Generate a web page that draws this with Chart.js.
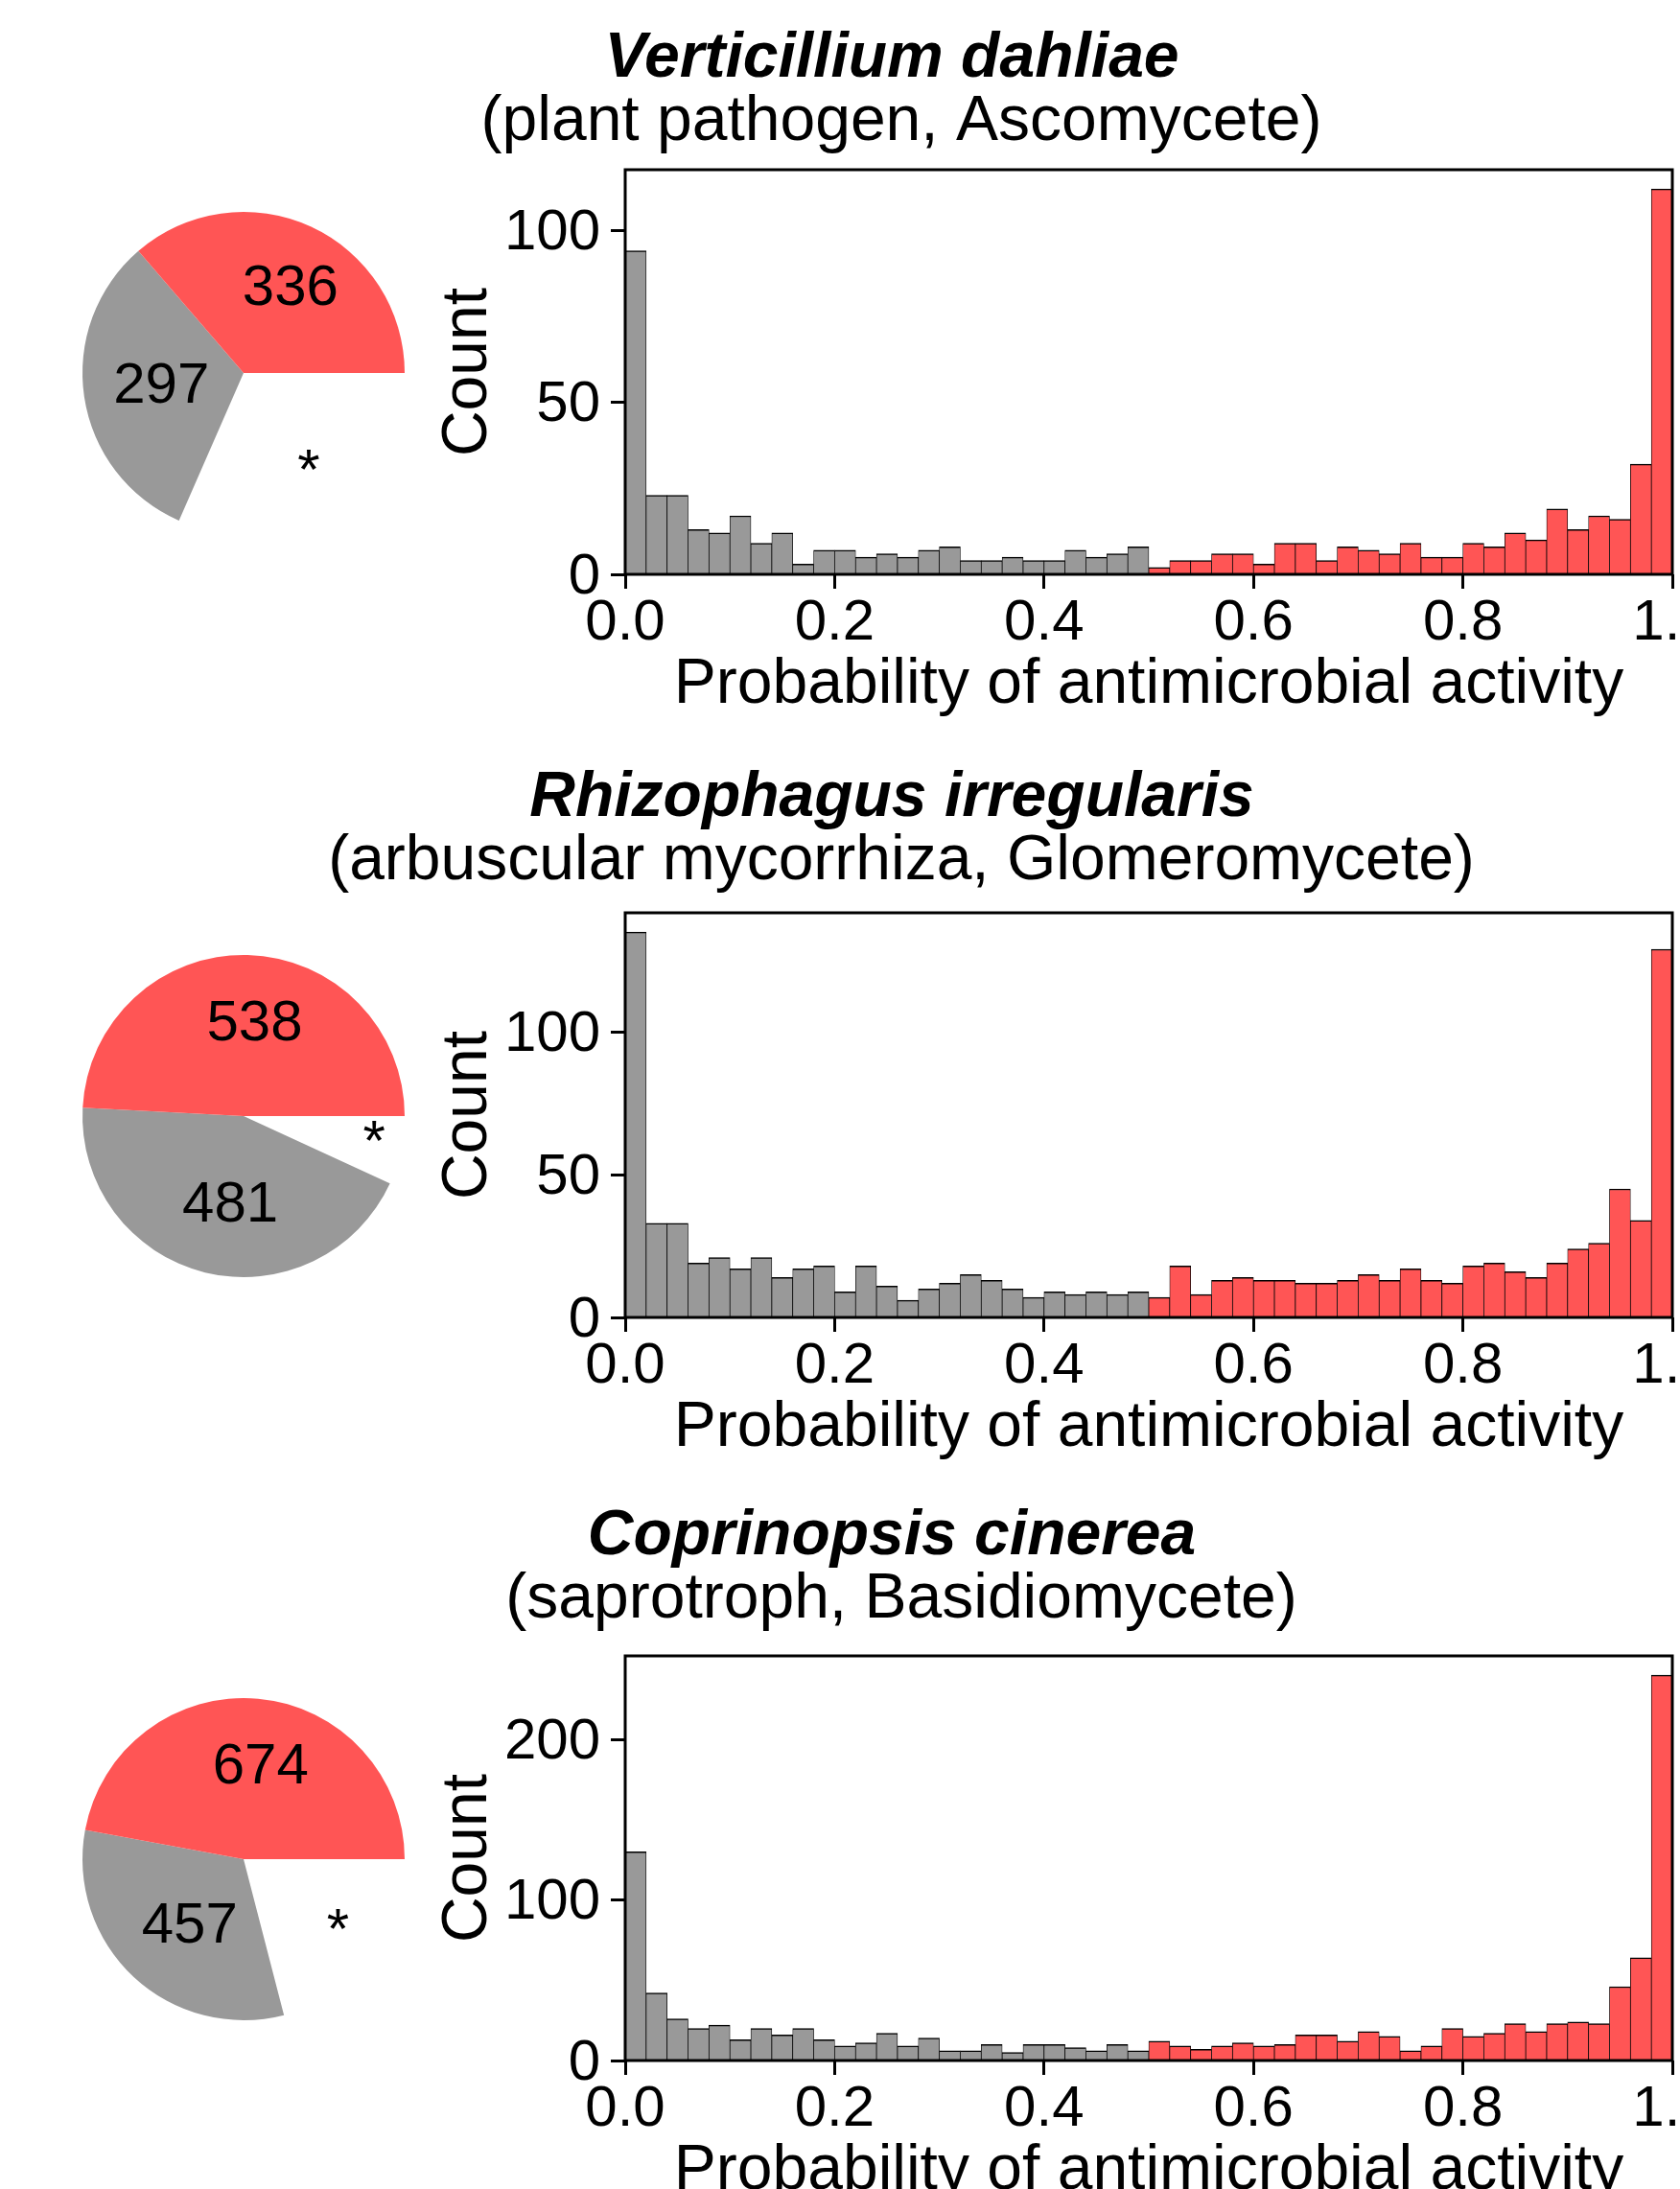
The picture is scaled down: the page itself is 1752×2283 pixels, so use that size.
<!DOCTYPE html>
<html>
<head>
<meta charset="utf-8">
<script src="https://cdn.jsdelivr.net/npm/chart.js@4.4.1/dist/chart.umd.min.js"></script>
<style>
  html, body { margin: 0; padding: 0; background: #fff; width: 1752px; height: 2283px; overflow: hidden; }
  .row { position: absolute; left: 0; width: 1752px; height: 775px; }
  .row canvas { position: absolute; }
</style>
</head>
<body>
<div id="rows"></div>
<script>
// ---- data ----
const species = ['Verticillium dahliae', 'Rhizophagus irregularis', 'Coprinopsis cinerea'];
const lifestyles = ['(plant pathogen, Ascomycete)', '(arbuscular mycorrhiza, Glomeromycete)', '(saprotroph, Basidiomycete)'];

// histogram bin centres (bin width 0.02)
const binCenters = [0.01, 0.03, 0.05, 0.07, 0.09, 0.11, 0.13, 0.15, 0.17, 0.19,
                    0.21, 0.23, 0.25, 0.27, 0.29, 0.31, 0.33, 0.35, 0.37, 0.39,
                    0.41, 0.43, 0.45, 0.47, 0.49, 0.51, 0.53, 0.55, 0.57, 0.59,
                    0.61, 0.63, 0.65, 0.67, 0.69, 0.71, 0.73, 0.75, 0.77, 0.79,
                    0.81, 0.83, 0.85, 0.87, 0.89, 0.91, 0.93, 0.95, 0.97, 0.99];

const countsVerticillium = [94, 23, 23, 13, 12, 17, 9, 12, 3, 7, 7, 5, 6, 5, 7, 8, 4, 4, 5, 4, 4, 7, 5, 6, 8,
                            2, 4, 4, 6, 6, 3, 9, 9, 4, 8, 7, 6, 9, 5, 5, 9, 8, 12, 10, 19, 13, 17, 16, 32, 112];
const countsRhizophagus = [135, 33, 33, 19, 21, 17, 21, 14, 17, 18, 9, 18, 11, 6, 10, 12, 15, 13, 10, 7, 9, 8, 9, 8, 9,
                           7, 18, 8, 13, 14, 13, 13, 12, 12, 13, 15, 13, 17, 13, 12, 18, 19, 16, 14, 19, 24, 26, 45, 34, 129];
const countsCoprinopsis = [130, 42, 26, 20, 22, 13, 20, 16, 20, 13, 9, 11, 17, 9, 14, 6, 6, 10, 5, 10, 10, 8, 6, 10, 6,
                           12, 9, 7, 9, 11, 9, 10, 16, 16, 12, 18, 15, 6, 9, 20, 15, 17, 23, 18, 23, 24, 23, 46, 64, 240];

// pie wedges: predicted active, predicted inactive, remainder (marked *)
const pieActive   = [336, 538, 674];
const pieInactive = [297, 481, 457];
const pieOther    = [292, 75, 300];
const otherMark = '*';

const yTickSteps = [50, 50, 100];
const xTickStep = 0.2;
const activeThreshold = 0.5;

// ---- styling ----
const RED = '#ff5555';
const GREY = '#999999';
const FONT = '"Liberation Sans", Arial, sans-serif';
Chart.defaults.color = '#000';
Chart.defaults.font.family = FONT;

const tickFont = { family: FONT, size: 60, lineHeight: 1 };
const labelFont = { family: FONT, size: 66, lineHeight: 1 };

// heading baselines (middle of text) for each row, and radial placement of the * mark
const headingTitleY = [62, 58, 53];
const headingSubtitleY = [128, 124, 119];
const markRadius = [0.74, 0.83, 0.74];

// box round the plotting area
const framePlugin = {
  id: 'frame',
  afterDraw(chart) {
    const { ctx, chartArea: a } = chart;
    ctx.save();
    ctx.strokeStyle = '#000';
    ctx.lineWidth = 3;
    ctx.strokeRect(a.left, a.top, a.right - a.left, a.bottom - a.top);
    ctx.restore();
  }
};

// species name (bold italic) and lifestyle line above each histogram
const headingPlugin = {
  id: 'heading',
  afterDraw(chart, args, opts) {
    const ctx = chart.ctx;
    ctx.save();
    ctx.fillStyle = '#000';
    ctx.textAlign = 'center';
    ctx.textBaseline = 'middle';
    ctx.font = 'italic bold 66px ' + FONT;
    ctx.fillText(opts.title, opts.titleX, opts.titleY);
    ctx.font = '66px ' + FONT;
    ctx.fillText(opts.subtitle, opts.subtitleX, opts.subtitleY);
    ctx.restore();
  }
};

// counts written inside the pie wedges
const pieLabelPlugin = {
  id: 'pieLabels',
  afterDatasetsDraw(chart, args, opts) {
    const meta = chart.getDatasetMeta(0);
    const ctx = chart.ctx;
    ctx.save();
    ctx.font = '60px ' + FONT;
    ctx.fillStyle = '#000';
    ctx.textAlign = 'center';
    ctx.textBaseline = 'middle';
    meta.data.forEach((arc, i) => {
      const p = arc.getProps(['x', 'y', 'startAngle', 'endAngle', 'outerRadius'], true);
      const mid = (p.startAngle + p.endAngle) / 2;
      const text = chart.data.labels[i];
      const isMark = text === otherMark;
      const r = p.outerRadius * (isMark ? opts.markRadius : 0.57);
      const dx = isMark ? 0 : 9;
      ctx.fillText(text, p.x + Math.cos(mid) * r + dx, p.y + Math.sin(mid) * r);
    });
    ctx.restore();
  }
};

const histCounts = [countsVerticillium, countsRhizophagus, countsCoprinopsis];
const rowsEl = document.getElementById('rows');

species.forEach((name, r) => {
  const row = document.createElement('div');
  row.className = 'row';
  row.style.top = (r * 775) + 'px';
  rowsEl.appendChild(row);

  const pieCanvas = document.createElement('canvas');
  pieCanvas.width = 400; pieCanvas.height = 400;
  pieCanvas.style.left = '54px'; pieCanvas.style.top = '189px';
  row.appendChild(pieCanvas);

  const histCanvas = document.createElement('canvas');
  histCanvas.width = 1640; histCanvas.height = 775;
  histCanvas.style.left = '112px'; histCanvas.style.top = '0px';
  row.appendChild(histCanvas);

  // pie drawn clockwise from 3 o'clock: remainder, inactive, active
  new Chart(pieCanvas, {
    type: 'pie',
    data: {
      labels: [otherMark, String(pieInactive[r]), String(pieActive[r])],
      datasets: [{
        data: [pieOther[r], pieInactive[r], pieActive[r]],
        backgroundColor: ['rgba(255,255,255,0)', GREY, RED],
        borderWidth: 0
      }]
    },
    options: {
      responsive: false, animation: false, devicePixelRatio: 1, events: [],
      rotation: 90,
      layout: { padding: 32 },
      plugins: {
        legend: { display: false },
        tooltip: { enabled: false },
        pieLabels: { markRadius: markRadius[r] }
      }
    },
    plugins: [pieLabelPlugin]
  });

  const counts = histCounts[r];
  const yStep = yTickSteps[r];
  const yMax = Math.max(...counts) * 1.05;

  new Chart(histCanvas, {
    type: 'bar',
    data: {
      datasets: [{
        data: binCenters.map((x, i) => ({ x: x, y: counts[i] })),
        backgroundColor: c => (c.raw && c.raw.x >= activeThreshold) ? RED : GREY,
        borderColor: '#000',
        borderWidth: { top: 1.5, left: 0.75, right: 0.75, bottom: 0 },
        borderSkipped: false,
        barPercentage: 1,
        categoryPercentage: 1
      }]
    },
    options: {
      responsive: false, animation: false, devicePixelRatio: 1, events: [],
      layout: { padding: { left: 0, right: 8, top: 177, bottom: 0 } },
      plugins: {
        legend: { display: false },
        tooltip: { enabled: false },
        heading: {
          title: name, titleX: 818, titleY: headingTitleY[r],
          subtitle: lifestyles[r], subtitleX: 828, subtitleY: headingSubtitleY[r]
        }
      },
      scales: {
        x: {
          type: 'linear', min: 0, max: 1, offset: false,
          grid: { offset: false, drawOnChartArea: false, drawTicks: true, tickLength: 15, tickWidth: 3, tickColor: '#000' },
          border: { display: false },
          ticks: { stepSize: xTickStep, padding: 6, font: tickFont, color: '#000', maxRotation: 0, autoSkip: false,
                   callback: v => Number(v).toFixed(1) },
          title: { display: true, text: 'Probability of antimicrobial activity', font: labelFont, color: '#000',
                   padding: { top: 0, bottom: 27 } },
          afterFit: s => { s.height = 176; s.paddingLeft = 0; s.paddingRight = 0; }
        },
        y: {
          type: 'linear', min: 0, max: yMax,
          grid: { drawOnChartArea: false, drawTicks: true, tickLength: 15, tickWidth: 3, tickColor: '#000' },
          border: { display: false },
          ticks: { stepSize: yStep, padding: 11, labelOffset: 3, font: tickFont, color: '#000' },
          afterBuildTicks: s => { s.ticks = s.ticks.filter(t => t.value % yStep === 0); },
          title: { display: true, text: 'Count', font: labelFont, color: '#000', padding: { top: 344, bottom: 0 } },
          afterFit: s => { s.width = 540; s.paddingTop = 0; s.paddingBottom = 0; }
        }
      }
    },
    plugins: [framePlugin, headingPlugin]
  });
});
</script>
</body>
</html>
